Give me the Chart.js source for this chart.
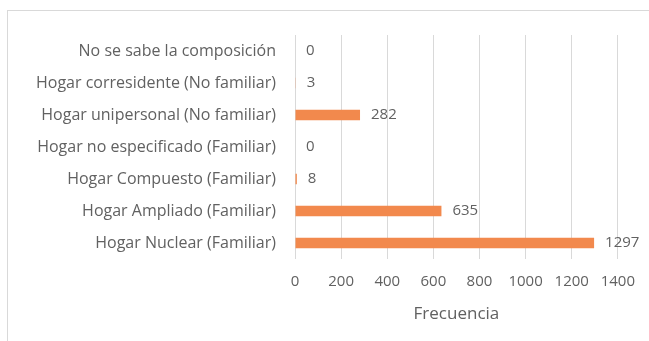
<!DOCTYPE html>
<html>
<head>
<meta charset="utf-8">
<script src="https://cdn.jsdelivr.net/npm/chart.js@4/dist/chart.umd.min.js"></script>
<style>
  html, body { margin: 0; padding: 0; background: #ffffff; overflow: hidden; }
  #frame { position: absolute; left: 7px; top: 10px; width: 700px; height: 400px;
           border: 1px solid #d9d9d9; box-sizing: border-box; }
  #wrap { position: absolute; left: 0; top: 0; width: 649px; height: 341px; }
</style>
</head>
<body>
<div id="frame"></div>
<div id="wrap"><canvas id="c" width="649" height="341"></canvas></div>
<script>
// Household composition categories (top to bottom) and their counts
const categories = [
  'No se sabe la composición',
  'Hogar corresidente (No familiar)',
  'Hogar unipersonal (No familiar)',
  'Hogar no especificado (Familiar)',
  'Hogar Compuesto (Familiar)',
  'Hogar Ampliado (Familiar)',
  'Hogar Nuclear (Familiar)'
];
const frecuencia = [0, 3, 282, 0, 8, 635, 1297];
const axisTitle = 'Frecuencia';
const xTicks = [0, 200, 400, 600, 800, 1000, 1200, 1400];

const textColor = '#616161';
const fontFamily = '"Open Sans", sans-serif';

// Writes each bar's value just past its end
const valueLabels = {
  id: 'valueLabels',
  afterDatasetsDraw(chart) {
    const { ctx } = chart;
    const meta = chart.getDatasetMeta(0);
    ctx.save();
    ctx.font = '15px ' + fontFamily;
    ctx.fillStyle = textColor;
    ctx.textAlign = 'left';
    ctx.textBaseline = 'middle';
    meta.data.forEach((bar, i) => {
      ctx.fillText(String(frecuencia[i]), bar.x + 11, bar.y);
    });
    ctx.restore();
  }
};

new Chart(document.getElementById('c'), {
  type: 'bar',
  data: {
    labels: categories,
    datasets: [{
      data: frecuencia,
      backgroundColor: '#f2894d',
      borderWidth: 0,
      barPercentage: 0.62,
      categoryPercentage: 0.52
    }]
  },
  options: {
    indexAxis: 'y',
    responsive: false,
    animation: false,
    events: [],
    layout: { padding: { left: 0, right: 31, top: 35, bottom: 17 } },
    plugins: {
      legend: { display: false },
      tooltip: { enabled: false }
    },
    scales: {
      x: {
        min: 0,
        max: 1400,
        afterBuildTicks(scale) { scale.ticks = xTicks.map(v => ({ value: v })); },
        afterFit(scale) { scale.height = 65; },
        grid: { color: '#d9d9d9', lineWidth: 1, drawTicks: false },
        border: { display: false },
        ticks: {
          color: textColor,
          font: { family: fontFamily, size: 15 },
          padding: 14,
          maxRotation: 0,
          callback: v => String(v)
        },
        title: {
          display: true,
          text: axisTitle,
          color: textColor,
          font: { family: fontFamily, size: 17 },
          padding: { top: 8, bottom: 0 }
        }
      },
      y: {
        afterFit(scale) { scale.width = 295; },
        grid: { display: false, drawTicks: false },
        border: { display: false },
        ticks: {
          color: textColor,
          font: { family: fontFamily, size: 16 },
          padding: 19
        }
      }
    }
  },
  plugins: [valueLabels]
});
</script>
</body>
</html>
